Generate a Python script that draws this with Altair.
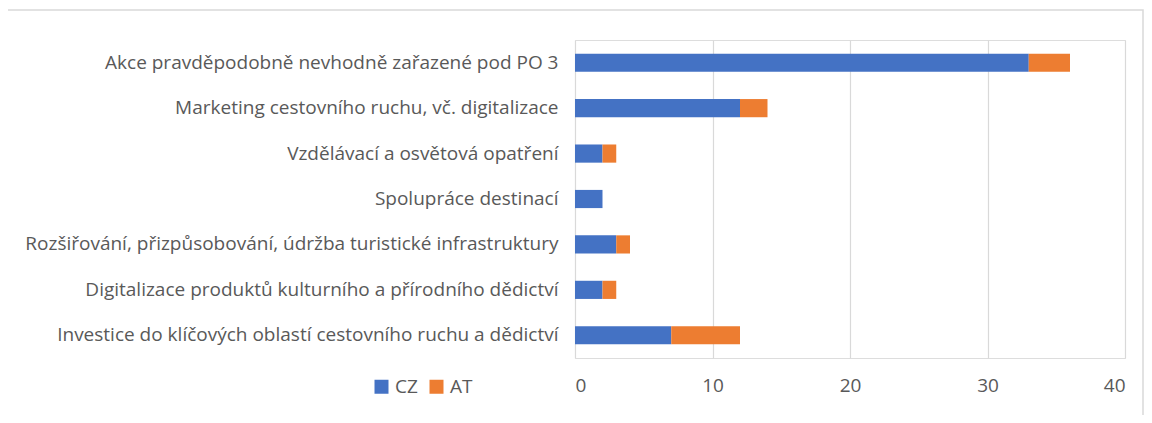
import altair as alt
import pandas as pd

categories = [
    "Akce pravděpodobně nevhodně zařazené pod PO 3",
    "Marketing cestovního ruchu, vč. digitalizace",
    "Vzdělávací a osvětová opatření",
    "Spolupráce destinací",
    "Rozšiřování, přizpůsobování, údržba turistické infrastruktury",
    "Digitalizace produktů kulturního a přírodního dědictví ",
    "Investice do klíčových oblastí cestovního ruchu a dědictví",
]
cz_values = [33, 12, 2, 2, 3, 2, 7]
at_values = [3, 2, 1, 0, 1, 1, 5]
series = ["CZ", "AT"]
colors = ["#4472C4", "#ED7D31"]
x_ticks = [0, 10, 20, 30, 40]

rows = []
for c, v in zip(categories, cz_values):
    rows.append({"cat": c, "series": "CZ", "value": v, "ord": 0})
for c, v in zip(categories, at_values):
    rows.append({"cat": c, "series": "AT", "value": v, "ord": 1})
df = pd.DataFrame(rows)

FONT = "Open Sans"
GREY = "#595959"

bars = alt.Chart(df).mark_bar().encode(
    y=alt.Y("cat:N", sort=categories, title=None,
            scale=alt.Scale(paddingInner=0.6, paddingOuter=0.3),
            axis=alt.Axis(ticks=False, domain=False, labelPadding=17,
                          labelFontSize=19, labelColor=GREY, labelFont=FONT,
                          labelLimit=700, grid=False)),
    x=alt.X("value:Q", stack="zero", title=None,
            scale=alt.Scale(domain=[0, 40], nice=False),
            axis=alt.Axis(values=x_ticks, ticks=False, domain=False, grid=True,
                          gridColor="#d9d9d9", gridWidth=1.2, labelPadding=18,
                          labelFontSize=19, labelColor=GREY, labelFont=FONT)),
    color=alt.Color("series:N", sort=series,
                    scale=alt.Scale(domain=series, range=colors),
                    legend=alt.Legend(title=None, orient="none", direction="horizontal",
                                      legendX=-203, legendY=337, symbolType="square",
                                      symbolSize=196, symbolStrokeWidth=0,
                                      labelFontSize=19, labelColor=GREY, labelFont=FONT,
                                      columnPadding=9, labelOffset=4)),
    order=alt.Order("ord:Q"),
)

border = alt.Chart(pd.DataFrame({"a": [0]})).mark_rect(
    fill=None, stroke="#d9d9d9", strokeWidth=1.5
).encode(
    x=alt.value(-568), x2=alt.value(568), y=alt.value(-30), y2=alt.value(390)
)

chart = alt.layer(border, bars).properties(
    width=550, height=318,
    autosize=alt.AutoSizeParams(type="none"),
    padding={"left": 567, "top": 32, "right": 19, "bottom": 57},
).configure_view(stroke=None).configure(background="white")

chart.save("out.html", embed_options={"renderer": "svg", "actions": False})
